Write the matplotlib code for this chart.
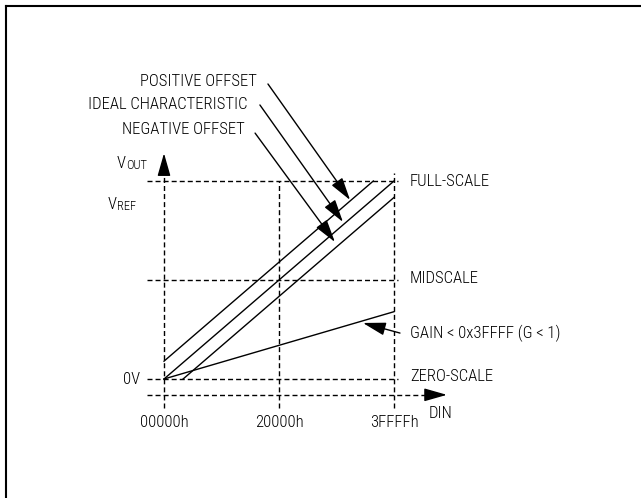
import matplotlib
matplotlib.use('Agg')
import matplotlib.pyplot as plt
from matplotlib import font_manager
from matplotlib.lines import Line2D

# pick a narrow sans face if one is there
avail = {f.name for f in font_manager.fontManager.ttflist}
family = 'Liberation Sans'
for fam in ['Liberation Sans Narrow', 'Roboto Condensed', 'Liberation Sans']:
    if fam in avail:
        family = fam
        break
plt.rcParams['font.family'] = family
plt.rcParams['font.weight'] = 'light'

FS = 0x3FFFF

# DIN codes on the x axis
codes = [0x00000, 0x20000, 0x3FFFF]
code_labels = ['00000h', '20000h', '3FFFFh']

# output levels, fraction of VREF
levels = [0.0, 0.5, 1.0]
level_labels = ['ZERO-SCALE', 'MIDSCALE', 'FULL-SCALE']
level_text_y = [0.015, 0.51, 1.0]

# transfer characteristics (DIN, VOUT/VREF)
ideal_x = [0, FS]
ideal_y = [0.0, 1.0]
pos_x = [0, 0.91 * FS]
pos_y = [0.09, 1.0]
neg_x = [0.083 * FS, FS]
neg_y = [0.0, 0.917]
gain_x = [0, FS]
gain_y = [0.0, 0.34]

# callouts: label, text anchor, arrow start, arrow tip
callouts = [
    ('POSITIVE OFFSET', (0.404 * FS, 1.505), (0.452 * FS, 1.49), (0.809 * FS, 0.904)),
    ('IDEAL CHARACTERISTIC', (0.361 * FS, 1.384), (0.417 * FS, 1.384), (0.778 * FS, 0.793)),
    ('NEGATIVE OFFSET', (0.352 * FS, 1.258), (0.396 * FS, 1.242), (0.743 * FS, 0.692)),
]

FSIZE = 12
SUBSIZE = 9
dash = (0, (3.6, 2.2))
head = dict(arrowstyle='-|>,head_length=1.4,head_width=0.4', mutation_scale=10,
            color='black', lw=1, shrinkA=0, shrinkB=0)

fig = plt.figure(figsize=(6.41, 4.98), dpi=100)
ax = fig.add_axes([0, 0, 1, 1])
ax.set_xlim(-164 / 230 * FS, 477 / 230 * FS)
ax.set_ylim(-119 / 198, 379 / 198)
ax.axis('off')

# dashed reference levels
for lev, lab, ty in zip(levels, level_labels, level_text_y):
    ax.plot([-0.074 * FS, 1.017 * FS], [lev, lev], color='black', lw=1, ls=dash)
    ax.text(1.07 * FS, ty, lab, fontsize=FSIZE, va='center', ha='left')

tops = [1.06, 1.0, 1.04]
for c, lab, top in zip(codes, code_labels, tops):
    ax.plot([c, c], [-0.146, top], color='black', lw=1, ls=dash)
    ax.text(c, -0.222, lab, fontsize=FSIZE, ha='center', va='center')

# DIN axis
ax.plot([-0.074 * FS, 1.15 * FS], [-0.08, -0.08], color='black', lw=1, ls=dash)
ax.annotate('', xy=(1.23 * FS, -0.08), xytext=(1.14 * FS, -0.08), arrowprops=head)
ax.text(1.152 * FS, -0.172, 'DIN', fontsize=FSIZE, ha='left', va='center')

# VOUT axis head
ax.annotate('', xy=(0, 1.14), xytext=(0, 1.04), arrowprops=head)

# axis annotations
ax.text(-0.104 * FS, 0.0, '0V', fontsize=FSIZE, ha='right', va='center')
ax.annotate('V', xy=(-0.243 * FS, 0.86), fontsize=FSIZE, ha='left', va='baseline')
ax.annotate('REF', xy=(-0.243 * FS, 0.86), xytext=(6.4, -1), textcoords='offset points',
            fontsize=SUBSIZE, ha='left', va='baseline')
ax.annotate('V', xy=(-0.204 * FS, 1.067), fontsize=FSIZE, ha='left', va='baseline')
ax.annotate('OUT', xy=(-0.204 * FS, 1.067), xytext=(6.4, -1), textcoords='offset points',
            fontsize=SUBSIZE, ha='left', va='baseline')

# transfer lines
ax.plot(ideal_x, ideal_y, color='black', lw=1)
ax.plot(pos_x, pos_y, color='black', lw=1)
ax.plot(neg_x, neg_y, color='black', lw=1)
ax.plot(gain_x, gain_y, color='black', lw=1)

# callouts
for lab, txt, start, tip in callouts:
    ax.text(txt[0], txt[1], lab, fontsize=FSIZE, ha='right', va='center')
    ax.annotate('', xy=tip, xytext=start, arrowprops=head)

ax.annotate('', xy=(0.865 * FS, 0.283), xytext=(1.026 * FS, 0.232), arrowprops=head)
ax.text(1.07 * FS, 0.23, 'GAIN < 0x3FFFF (G < 1)', fontsize=FSIZE, ha='left', va='center')

# frame (top and left edges only)
fig.add_artist(Line2D([6 / 641, 1], [1 - 6 / 498, 1 - 6 / 498], transform=fig.transFigure,
                      color='black', lw=1.5))
fig.add_artist(Line2D([6 / 641, 6 / 641], [0, 1 - 6 / 498], transform=fig.transFigure,
                      color='black', lw=1.5))

fig.savefig('out.png', dpi=100)
